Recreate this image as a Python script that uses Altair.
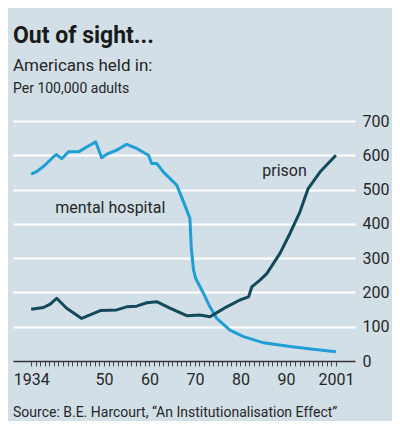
import altair as alt
import pandas as pd

# ---- data ----
mh_years = [1934, 1935.3, 1937, 1939, 1939.6, 1940.7, 1942.2, 1944.4, 1946.2, 1948.2,
            1949.5, 1950.6, 1952.8, 1955, 1957.2, 1959.8, 1960.5, 1961.6, 1963.1, 1966,
            1967.5, 1968.9, 1969.2, 1969.7, 1970.2, 1971.9, 1973.3, 1974.8, 1977.7, 1980.7,
            1985.1, 1990.9, 1996, 2001]
mh_values = [545, 553, 571, 597, 602, 590, 610, 610, 624, 639,
             593, 603, 615, 632, 620, 600, 576, 576, 551, 513,
             464, 416, 330, 265, 240, 197, 158, 124, 90, 71,
             53, 42, 34, 27]

pr_years = [1934, 1936.7, 1938.2, 1939.6, 1941.8, 1945.1, 1949.2, 1952.8, 1955, 1957.2,
            1959.4, 1961.6, 1964.5, 1968.2, 1971.1, 1973.3, 1975.2, 1977, 1979.9, 1981.8,
            1982.5, 1984.3, 1985.8, 1988.7, 1990.9, 1993.1, 1994.9, 1997.5, 2001]
pr_values = [151, 156, 166, 183, 154, 124, 147, 149, 158, 160,
             170, 173, 154, 132, 134, 129, 144, 158, 178, 187,
             216, 236, 255, 314, 372, 435, 503, 551, 600]

series_names = ["mental hospital", "prison"]
series_colors = ["#1f9fd6", "#12495b"]
label_years = [1939.3, 1984.8]
label_values = [446, 555]

title_text = "Out of sight..."
subtitle_text = "Americans held in:"
unit_text = "Per 100,000 adults"
source_text = "Source: B.E. Harcourt, \u201cAn Institutionalisation Effect\u201d"
y_ticks = [0, 100, 200, 300, 400, 500, 600, 700]
x_tick_years = list(range(1934, 2002))
x_label_years = [1934, 1950, 1960, 1970, 1980, 1990, 2001]

FONT = "Roboto"
TXT = "#262626"
BG = "#d2dfe7"

df = pd.concat([
    pd.DataFrame({"year": mh_years, "value": mh_values, "series": series_names[0]}),
    pd.DataFrame({"year": pr_years, "value": pr_values, "series": series_names[1]}),
], ignore_index=True)

labels_df = pd.DataFrame({"year": label_years, "value": label_values, "series": series_names})

x_scale = alt.Scale(domain=[1930, 2005.2], nice=False, zero=False)
y_scale = alt.Scale(domain=[0, 700], nice=False)
color_scale = alt.Scale(domain=series_names, range=series_colors)

label_list = ",".join(str(v) for v in x_label_years)
x_axis = alt.Axis(
    values=x_tick_years,
    title=None,
    grid=False,
    format="d",
    labelExpr=f"indexof([{label_list}], datum.value) >= 0 ? ((datum.value == 1934 || datum.value == 2001) ? toString(datum.value) : substring(toString(datum.value), 2)) : ''",
    labelOverlap=False,
    labelFlush=False,
    labelFontSize=16,
    labelFont=FONT,
    labelColor=TXT,
    labelPadding=5,
    domainColor="#333333",
    domainWidth=1.5,
    tickColor="#4a4a4a",
    tickWidth=1,
    tickSize=5,
)

y_axis = alt.Axis(
    orient="right",
    values=y_ticks,
    title=None,
    domain=False,
    ticks=False,
    labelPadding=7,
    labelFontSize=16,
    labelFont=FONT,
    labelColor=TXT,
    labelOverlap=False,
    gridColor=alt.condition("datum.value == 0", alt.value("transparent"), alt.value("#ffffff")),
    gridWidth=2,
)

lines = alt.Chart(df).mark_line(strokeWidth=3, strokeJoin="round").encode(
    x=alt.X("year:Q", scale=x_scale, axis=x_axis),
    y=alt.Y("value:Q", scale=y_scale, axis=y_axis),
    color=alt.Color("series:N", scale=color_scale, legend=None),
    detail="series:N",
)

series_labels = alt.Chart(labels_df).mark_text(
    align="left", baseline="middle", fontSize=16, font=FONT, color=TXT
).encode(
    x=alt.X("year:Q", scale=x_scale, axis=x_axis),
    y=alt.Y("value:Q", scale=y_scale, axis=y_axis),
    text="series:N",
)

def header(text, y, size, weight="normal"):
    return alt.Chart(pd.DataFrame({"t": [text]})).mark_text(
        align="left", baseline="alphabetic", fontSize=size, fontWeight=weight,
        font=FONT, color="#1a1a1a" if weight == "bold" else TXT
    ).encode(x=alt.value(0), y=alt.value(y), text="t:N")

chart = alt.layer(
    lines,
    series_labels,
    header(title_text, -78, 23, "bold"),
    header(subtitle_text, -50, 17),
    header(unit_text, -28, 14),
    header(source_text, 296, 14),
).properties(
    width=342,
    height=240,
    background=BG,
    padding={"left": 5, "top": 113, "right": 37, "bottom": 60},
    autosize=alt.AutoSizeParams(type="none"),
).configure_view(stroke=None)

chart.save("out.html", embed_options={"renderer": "svg", "actions": False})
